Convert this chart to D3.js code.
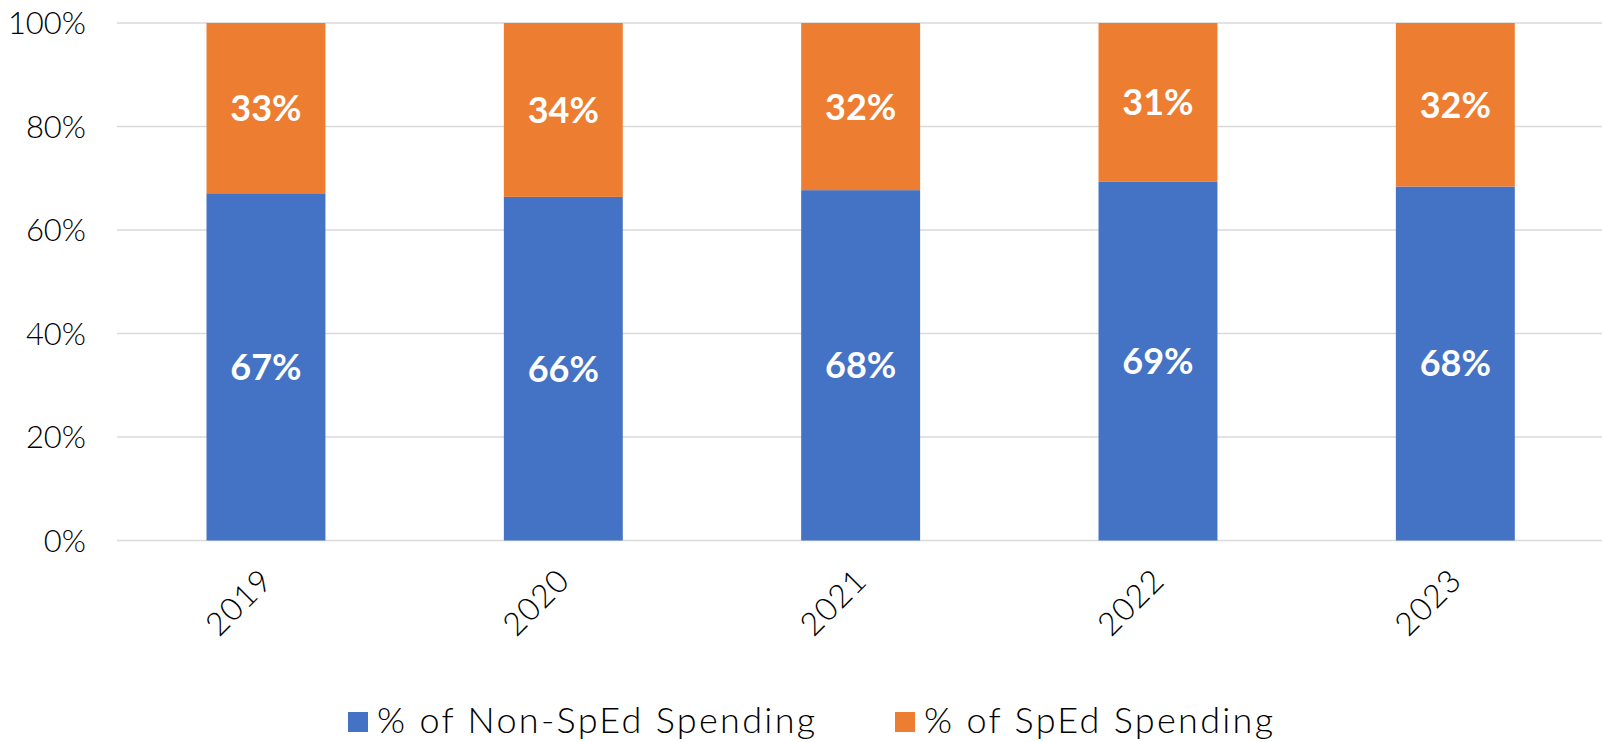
<!DOCTYPE html>
<html>
<head>
<meta charset="utf-8">
<script src="https://cdn.jsdelivr.net/npm/d3@7"></script>
<style>
  html, body { margin: 0; padding: 0; background: #ffffff; }
  svg { display: block; }
  text { font-family: "Century Gothic", Lato, sans-serif; }
</style>
</head>
<body>
<svg id="chart" width="1602" height="742"></svg>
<script>
const years = ["2019", "2020", "2021", "2022", "2023"];
const nonSpedValues = [67.1, 66.4, 67.7, 69.3, 68.4];
const spedValues = [32.9, 33.6, 32.3, 30.7, 31.6];
const nonSpedLabels = ["67%", "66%", "68%", "69%", "68%"];
const spedLabels = ["33%", "34%", "32%", "31%", "32%"];
const yTicks = [0, 20, 40, 60, 80, 100];
const seriesNames = ["% of Non-SpEd Spending", "% of SpEd Spending"];
const seriesColors = ["#4472C4", "#ED7D31"];

const svg = d3.select("#chart");

const x = d3.scaleBand().domain(years).range([117.3, 1604]).padding(0);
const y = d3.scaleLinear().domain([0, 100]).range([540.5, 23]);
const barFrac = 0.4;

// gridlines
svg.append("g")
  .selectAll("line")
  .data(yTicks)
  .join("line")
  .attr("x1", 117)
  .attr("x2", 1602)
  .attr("y1", d => y(d))
  .attr("y2", d => y(d))
  .attr("stroke", "#D9D9D9")
  .attr("stroke-width", 1.6);

// y tick labels
svg.append("g")
  .selectAll("text")
  .data(yTicks)
  .join("text")
  .attr("x", 86)
  .attr("y", d => y(d))
  .attr("dy", "0.36em")
  .attr("text-anchor", "end")
  .attr("font-size", 31)
  .attr("font-weight", 300)
  .attr("fill", "#000")
  .text(d => d + "%");

const rows = years.map((yr, i) => ({
  year: yr,
  nonSped: nonSpedValues[i],
  sped: spedValues[i],
  nonSpedLabel: nonSpedLabels[i],
  spedLabel: spedLabels[i]
}));

const bw = x.bandwidth() * barFrac;
const bx = d => x(d.year) + (x.bandwidth() - bw) / 2;

// non-sped bars
svg.append("g")
  .selectAll("rect")
  .data(rows)
  .join("rect")
  .attr("x", bx)
  .attr("width", bw)
  .attr("y", d => y(d.nonSped))
  .attr("height", d => y(0) - y(d.nonSped))
  .attr("fill", seriesColors[0]);

// sped bars
svg.append("g")
  .selectAll("rect")
  .data(rows)
  .join("rect")
  .attr("x", bx)
  .attr("width", bw)
  .attr("y", d => y(d.nonSped + d.sped))
  .attr("height", d => y(d.nonSped) - y(d.nonSped + d.sped))
  .attr("fill", seriesColors[1]);

// data labels
const cx = d => x(d.year) + x.bandwidth() / 2;
svg.append("g")
  .selectAll("text")
  .data(rows)
  .join("text")
  .attr("x", cx)
  .attr("y", d => (y(0) + y(d.nonSped)) / 2)
  .attr("dy", "0.36em")
  .attr("text-anchor", "middle")
  .attr("font-size", 36)
  .attr("font-weight", "bold")
  .attr("fill", "#fff")
  .text(d => d.nonSpedLabel);

svg.append("g")
  .selectAll("text")
  .data(rows)
  .join("text")
  .attr("x", cx)
  .attr("y", d => (y(d.nonSped) + y(d.nonSped + d.sped)) / 2)
  .attr("dy", "0.36em")
  .attr("text-anchor", "middle")
  .attr("font-size", 36)
  .attr("font-weight", "bold")
  .attr("fill", "#fff")
  .text(d => d.spedLabel);

// x labels rotated
svg.append("g")
  .selectAll("text")
  .data(years)
  .join("text")
  .attr("transform", d => `translate(${x(d) + x.bandwidth() / 2 - 8},566) rotate(-45)`)
  .attr("dy", "0.72em")
  .attr("text-anchor", "end")
  .attr("font-size", 32)
  .attr("font-weight", 300)
  .attr("letter-spacing", 1)
  .attr("fill", "#000")
  .text(d => d);

// legend
const legendX = [348, 895];
const legend = svg.append("g");
seriesNames.forEach((name, i) => {
  legend.append("rect")
    .attr("x", legendX[i])
    .attr("y", 712)
    .attr("width", 20)
    .attr("height", 20)
    .attr("fill", seriesColors[i]);
  legend.append("text")
    .attr("x", legendX[i] + 29)
    .attr("y", 733)
    .attr("font-size", 36)
    .attr("font-weight", 300)
    .attr("letter-spacing", 2.3)
    .attr("fill", "#000")
    .text(name);
});
</script>
</body>
</html>
